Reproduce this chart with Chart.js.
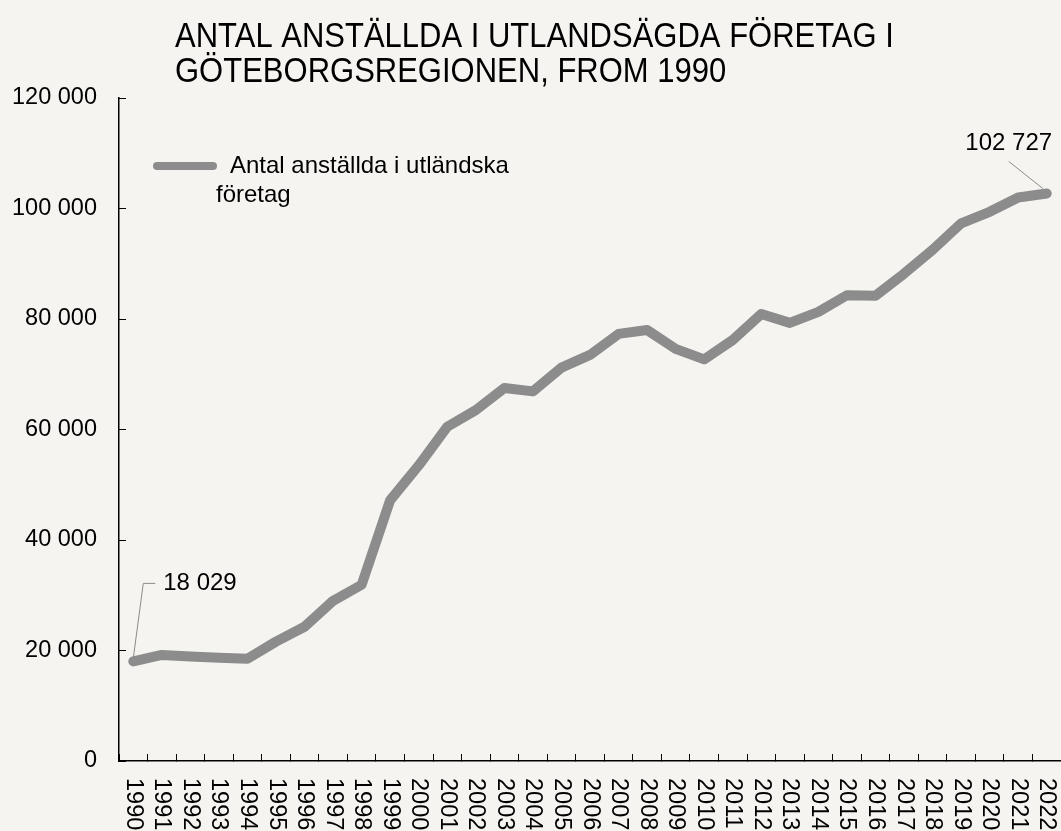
<!DOCTYPE html>
<html>
<head>
<meta charset="utf-8">
<script src="https://cdn.jsdelivr.net/npm/chart.js@4/dist/chart.umd.min.js"></script>
<style>
html, body { margin: 0; padding: 0; background: #f5f4f0; overflow: hidden; }
#wrap { position: relative; width: 1061px; height: 831px; }
</style>
</head>
<body>
<div id="wrap"><canvas id="chartForeign" width="1061" height="831"></canvas></div>
<script>
// data
var years = ['1990','1991','1992','1993','1994','1995','1996','1997','1998','1999','2000',
	'2001','2002','2003','2004','2005','2006','2007','2008','2009','2010','2011',
	'2012','2013','2014','2015','2016','2017','2018','2019','2020','2021','2022'];
var employees = [18029, 19200, 18900, 18700, 18500, 21600, 24300, 29000, 31900, 47200, 53500,
	60500, 63500, 67500, 66900, 71200, 73500, 77300, 78000, 74600, 72700, 76200,
	80900, 79300, 81300, 84300, 84200, 88200, 92500, 97300, 99400, 102000, 102727];
var yTickValues = [0, 20000, 40000, 60000, 80000, 100000, 120000];
var titleLines = ['ANTAL ANSTÄLLDA I UTLANDSÄGDA FÖRETAG I', 'GÖTEBORGSREGIONEN, FROM 1990'];
var legendLines = ['Antal anställda i utländska', 'företag'];
var calloutYears = ['1990', '2022'];

var FONT = "'Liberation Sans', Arial, sans-serif";
var LINE_GREY = '#8c8c8c';

function fmt(v) {
	return String(v).replace(/\B(?=(\d{3})+(?!\d))/g, ' ');
}

// title, legend, rotated year labels and the two value callouts
var decor = {
	id: 'decor',
	afterDraw: function(chart) {
		var ctx = chart.ctx;
		var xs = chart.scales.x, ys = chart.scales.y;
		ctx.save();
		ctx.fillStyle = '#000';

		// title: a little taller than the plain font, as in the original
		ctx.save();
		ctx.scale(1, 1.13);
		ctx.font = '31px ' + FONT;
		ctx.textAlign = 'left';
		ctx.textBaseline = 'alphabetic';
		ctx.fillText(titleLines[0], 175, 47 / 1.13);
		ctx.fillText(titleLines[1], 175, 82 / 1.13);
		ctx.restore();

		// legend
		ctx.strokeStyle = LINE_GREY;
		ctx.lineWidth = 8;
		ctx.lineCap = 'round';
		ctx.beginPath();
		ctx.moveTo(157, 166);
		ctx.lineTo(213, 166);
		ctx.stroke();
		ctx.font = '24px ' + FONT;
		ctx.textBaseline = 'middle';
		ctx.fillText(legendLines[0], 230, 166);
		ctx.fillText(legendLines[1], 216, 195);

		// year labels, turned clockwise
		ctx.font = '23.5px ' + FONT;
		years.forEach(function(y, i) {
			ctx.save();
			ctx.translate(xs.getPixelForValue(i), xs.top + 17);
			ctx.rotate(Math.PI / 2);
			ctx.textAlign = 'left';
			ctx.textBaseline = 'middle';
			ctx.fillText(y, 0, 0);
			ctx.restore();
		});

		// callouts
		ctx.font = '24px ' + FONT;
		ctx.strokeStyle = '#8a8a8a';
		ctx.lineWidth = 1;
		ctx.lineCap = 'butt';
		var i0 = years.indexOf(calloutYears[0]);
		var px = xs.getPixelForValue(i0), py = ys.getPixelForValue(employees[i0]);
		ctx.beginPath();
		ctx.moveTo(px, py - 3);
		ctx.lineTo(px + 10, py - 78);
		ctx.lineTo(px + 22, py - 78);
		ctx.stroke();
		ctx.textAlign = 'left';
		ctx.fillText(fmt(employees[i0]), px + 30, py - 78);

		var i1 = years.indexOf(calloutYears[1]);
		px = xs.getPixelForValue(i1); py = ys.getPixelForValue(employees[i1]);
		ctx.beginPath();
		ctx.moveTo(px - 4, py - 5);
		ctx.lineTo(px - 38, py - 32);
		ctx.stroke();
		ctx.textAlign = 'center';
		ctx.fillText(fmt(employees[i1]), px - 38, py - 50);
		ctx.restore();
	}
};

Chart.defaults.font.family = FONT;

var chart = new Chart(document.getElementById('chartForeign').getContext('2d'), {
	type: 'line',
	data: {
		labels: years,
		datasets: [{
			label: legendLines.join(' '),
			data: employees,
			borderColor: LINE_GREY,
			borderWidth: 10,
			borderCapStyle: 'round',
			borderJoinStyle: 'round',
			pointRadius: 0,
			tension: 0,
			fill: false
		}]
	},
	plugins: [decor],
	options: {
		responsive: false,
		animation: false,
		devicePixelRatio: 1,
		layout: { padding: { top: 98, left: 0, right: 0, bottom: 0 } },
		plugins: {
			legend: { display: false },
			title: { display: false },
			tooltip: { enabled: false }
		},
		scales: {
			x: {
				offset: true,
				grid: { offset: true, drawOnChartArea: false, tickLength: -7, color: '#000', lineWidth: 1 },
				border: { color: '#000', width: 1.5 },
				ticks: { autoSkip: false, minRotation: 90, maxRotation: 90, color: 'rgba(0,0,0,0)', font: { size: 22 } },
				afterFit: function(s) {
					s.height = 70;
					s.paddingLeft = 0;
					s.paddingRight = 0;
				}
			},
			y: {
				min: 0,
				max: 120000,
				afterBuildTicks: function(s) { s.ticks = yTickValues.map(function(v) { return { value: v }; }); },
				grid: { drawOnChartArea: false, tickLength: -7, color: '#000', lineWidth: 1 },
				border: { color: '#000', width: 1.5 },
				ticks: { padding: 29, color: '#000', font: { size: 23.5 }, callback: function(v) { return fmt(v); } },
				afterFit: function(s) { s.width = 119; }
			}
		}
	}
});
</script>
</body>
</html>
